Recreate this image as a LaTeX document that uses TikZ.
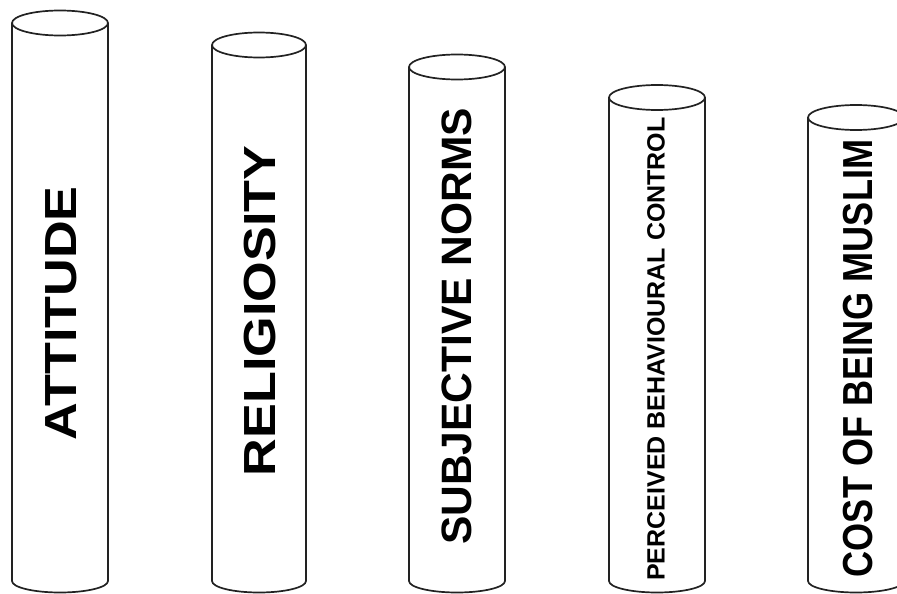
\documentclass[tikz,border=0pt]{standalone}
\usepackage{fontspec}
\setmainfont{Liberation Sans}
\definecolor{rim}{HTML}{222222}

\begin{document}
\begin{tikzpicture}[x=1pt,y=-1pt,
 drum/.style={draw=rim,line width=1.7pt,line join=round},
 drumtext/.style={rotate=90,inner sep=0pt,text=black}]
 \useasboundingbox (0,0) rectangle (897,594);
 \clip (0,0) rectangle (897,594);
 \foreach \l/\w/\t in {12/96/23,212/94/45,409/96/67,609/96/97.5,808/96/117.5}{
  \draw[drum] ({\l+\w/2},\t) ellipse ({\w/2} and 12.5);
  \draw[drum] (\l,\t)--(\l,581) arc[start angle=180,end angle=0,x radius=\w/2,y radius=11.5]--({\l+\w},\t);
 }
 \node[drumtext,xscale=1.16,font=\fontsize{45}{50}\selectfont\bfseries] (attitude) at (61,313.5) {ATTITUDE};
 \node[drumtext,xscale=1.16,font=\fontsize{45}{50}\selectfont\bfseries] (religiosity) at (260,311) {RELIGIOSITY};
 \node[drumtext,font=\fontsize{42.5}{48}\selectfont\bfseries] (subjnorms) at (457,326.5) {SUBJECTIVE NORMS};
 \node[drumtext,font=\fontsize{25}{30}\selectfont\bfseries] (pbc) at (656,349) {PERCEIVED BEHAVIOURAL CONTROL};
 \node[drumtext,xscale=.86,font=\fontsize{42}{48}\selectfont\bfseries] (costmuslim) at (858,358.5) {COST OF BEING MUSLIM};
\end{tikzpicture}
\end{document}
